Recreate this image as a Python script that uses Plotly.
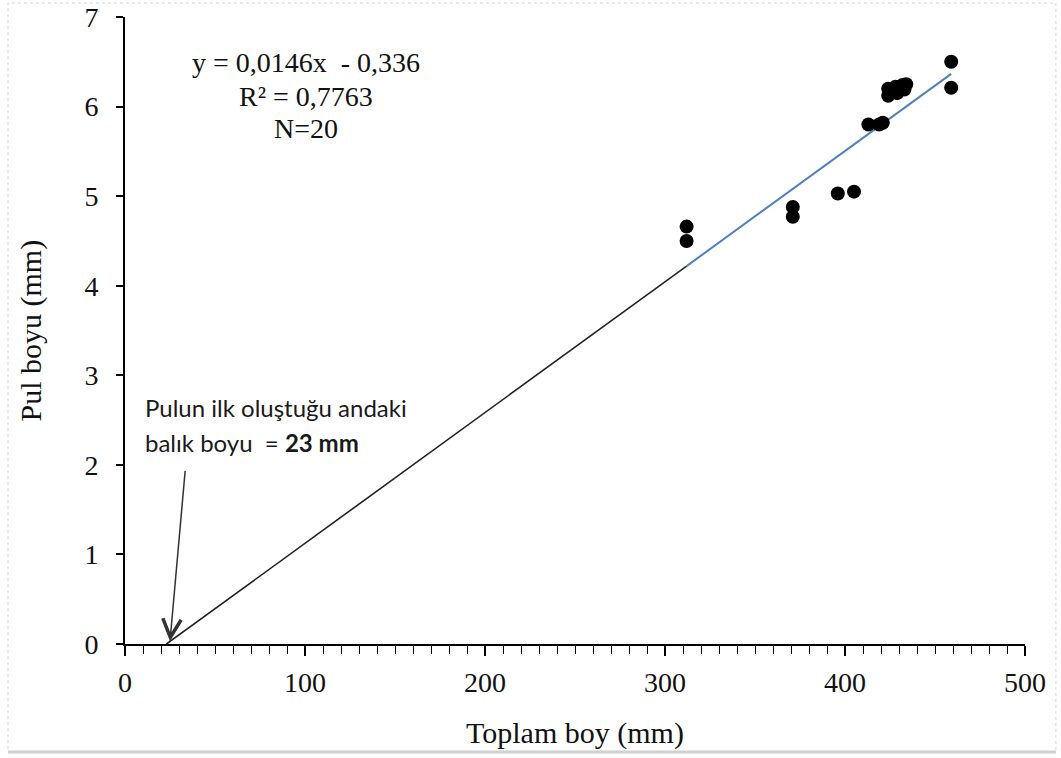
import plotly.graph_objects as go

# Data
total_length = [312, 312, 371, 371, 396, 405, 413, 419, 421, 424, 424, 426,
                428, 429, 431, 432, 433, 434, 459, 459]
scale_length = [4.66, 4.50, 4.88, 4.77, 5.03, 5.05, 5.80, 5.80, 5.82, 6.12,
                6.20, 6.18, 6.22, 6.15, 6.21, 6.24, 6.19, 6.25, 6.50, 6.21]
slope = 0.0146
intercept = -0.336
origin_length = 23
x_ticks = [0, 100, 200, 300, 400, 500]
y_ticks = [0, 1, 2, 3, 4, 5, 6, 7]

x_min_data = min(total_length)
x_max_data = max(total_length)

fig = go.Figure()

# Extrapolated (black) part of regression line
fig.add_trace(go.Scatter(
    x=[origin_length, x_min_data],
    y=[slope * origin_length + intercept, slope * x_min_data + intercept],
    mode="lines", line=dict(color="#222222", width=1.6),
    hoverinfo="skip", showlegend=False))

# Trendline over the data range (blue)
fig.add_trace(go.Scatter(
    x=[x_min_data, x_max_data],
    y=[slope * x_min_data + intercept, slope * x_max_data + intercept],
    mode="lines", line=dict(color="#4f81bd", width=2),
    hoverinfo="skip", showlegend=False))

# Data points
fig.add_trace(go.Scatter(
    x=total_length, y=scale_length, mode="markers",
    marker=dict(color="black", size=14, line=dict(width=0)),
    showlegend=False))

serif = "Liberation Serif"
sans = "Lato"

fig.update_layout(
    width=1061, height=758,
    margin=dict(l=125, r=36, t=17, b=114, autoexpand=False),
    paper_bgcolor="white", plot_bgcolor="white",
    showlegend=False,
    font=dict(family=serif, size=28, color="#111111"),
)

fig.update_xaxes(
    range=[0, 500], tickvals=x_ticks, showgrid=False, zeroline=False,
    showline=True, linecolor="black", linewidth=2, automargin=False,
    ticks="outside", ticklen=10, tickwidth=1.5, tickcolor="black",
    minor=dict(dtick=10, ticks="outside", ticklen=8, tickwidth=1.2, tickcolor="black", showgrid=False),
    tickfont=dict(family=serif, size=28, color="#111111"),
    ticklabelstandoff=2, ticklabeloverflow="allow",
)
fig.update_yaxes(
    range=[0, 7], tickvals=y_ticks, showgrid=False, zeroline=False,
    showline=True, linecolor="black", linewidth=2, automargin=False,
    ticks="outside", ticklen=7, tickwidth=1.5, tickcolor="black",
    tickfont=dict(family=serif, size=28, color="#111111"),
    ticklabelstandoff=12, ticklabeloverflow="allow",
)

annotations = [
    # axis titles
    dict(text="Toplam boy (mm)", xref="paper", yref="paper", x=0.5, y=0,
         yshift=-89, showarrow=False, xanchor="center", yanchor="middle",
         font=dict(family=serif, size=30, color="#111111")),
    dict(text="Pul boyu (mm)", xref="paper", yref="paper", x=0, y=0.5,
         xshift=-95, showarrow=False, textangle=-90, xanchor="center", yanchor="middle",
         font=dict(family=serif, size=30, color="#111111")),
    # equation block
    dict(text="y = 0,0146x  - 0,336", x=100.5, y=6.49, showarrow=False,
         xanchor="center", yanchor="middle", font=dict(family=serif, size=28, color="#111111")),
    dict(text="R² = 0,7763", x=100.5, y=6.11, showarrow=False,
         xanchor="center", yanchor="middle", font=dict(family=serif, size=28, color="#111111")),
    dict(text="N=20", x=100.5, y=5.76, showarrow=False,
         xanchor="center", yanchor="middle", font=dict(family=serif, size=28, color="#111111")),
    # note text
    dict(text="Pulun ilk oluştuğu andaki", x=10, y=2.635, showarrow=False,
         xanchor="left", yanchor="middle", font=dict(family=sans, size=24, color="#1a1a1a")),
    dict(text="balık boyu  = <b>23 mm</b>", x=10, y=2.255, showarrow=False,
         xanchor="left", yanchor="middle", font=dict(family=sans, size=24, color="#1a1a1a")),
    # arrow
    dict(text="", x=25, y=0.03, ax=33.5, ay=1.95, axref="x", ayref="y",
         showarrow=True, arrowhead=5, arrowsize=2.4, arrowwidth=1.5,
         arrowcolor="#333333", standoff=0, startstandoff=0),
]
fig.update_layout(annotations=annotations)

# light frame around the picture
fig.add_shape(type="rect", xref="paper", yref="paper",
              x0=-0.13, x1=1.0344, y0=-0.1722, y1=1.0223,
              line=dict(color="#d4d4d4", width=1, dash="dot"), layer="below")
fig.add_shape(type="line", xref="paper", yref="paper",
              x0=-0.13, x1=1.0344, y0=-0.1722, y1=-0.1722,
              line=dict(color="#cfcfcf", width=3), layer="below")

fig.write_html(
    "out.html",
    config={"displayModeBar": False},
    post_script="document.body.style.margin='0';document.body.style.overflow='hidden';",
)
